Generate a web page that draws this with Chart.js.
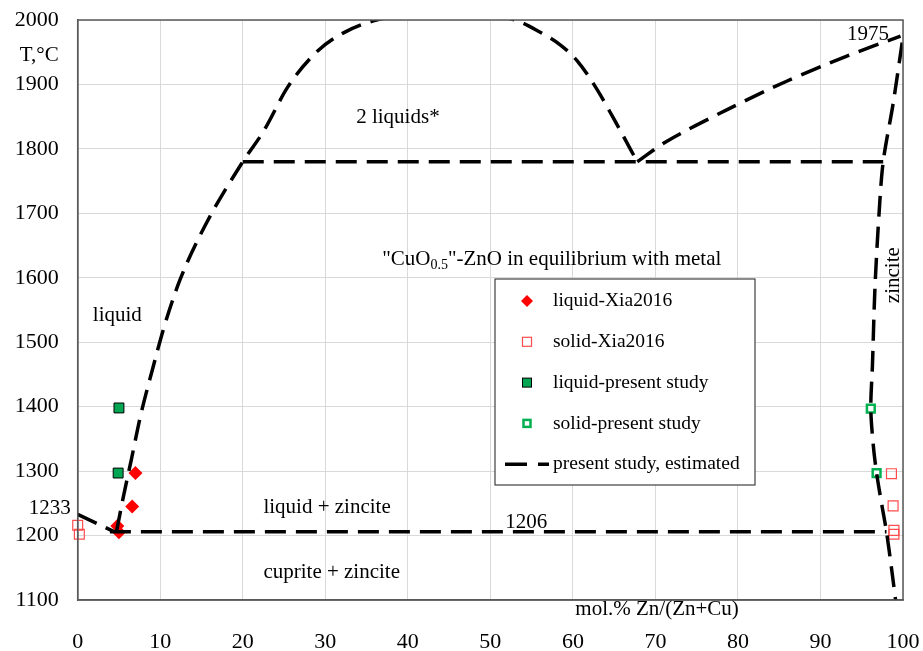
<!DOCTYPE html>
<html>
<head>
<meta charset="utf-8">
<script src="https://cdn.jsdelivr.net/npm/chart.js@4"></script>
<style>html,body{margin:0;padding:0;background:#fff}</style>
</head>
<body>
<canvas id="phase" width="923" height="651"></canvas>
<script>
// measured points (mol.% Zn/(Zn+Cu), T in C)
var liquidXiaX = [7.0, 6.6, 4.8, 5.0];
var liquidXiaT = [1297, 1245, 1215, 1205];
var solidXiaX = [0.0, 0.2, 98.6, 98.8, 98.9, 98.9];
var solidXiaT = [1216, 1202, 1296, 1246, 1208, 1202];
var liquidOursX = [5.0, 4.9];
var liquidOursT = [1398, 1297];
var solidOursX = [96.1, 96.8];
var solidOursT = [1397, 1297];

// estimated phase boundaries
var cuLiqX = [0, 4.4];
var cuLiqT = [1233, 1206];
var domeX = [4.7, 5.5, 6.5, 7.6, 9.0, 10.5, 12.4, 15.6, 20.0, 22.5, 25.5, 29.0, 32.2, 36.2, 40, 45, 50, 53.0, 55.6, 58.5, 60.5, 62.7, 64.9, 67.8];
var domeT = [1206, 1258, 1318, 1385, 1455, 1525, 1597, 1685, 1780, 1827, 1897, 1951, 1980, 2000, 2007, 2009, 2007, 2000, 1984, 1961, 1937, 1897, 1848, 1780];
var risingX = [67.8, 71.4, 78.7, 85.9, 93.2, 99.7];
var risingT = [1780, 1812, 1861, 1905, 1944, 1975];
var zinciteX = [99.9, 98.8, 97.6, 97.1, 96.6, 96.3, 96.1, 96.4, 96.8, 97.4, 98.0, 98.6, 99.1];
var zinciteT = [1965, 1870, 1780, 1700, 1584, 1465, 1397, 1340, 1297, 1250, 1206, 1150, 1100];
var monoX = [20.0, 97.6];
var monoT = [1780, 1780];
var eutX = [3.9, 98.0];
var eutT = [1206, 1206];

var serif = "'Liberation Serif', 'Times New Roman', serif";
var dash = [21, 10];

function pts(xs, ys) {
  return xs.map((x, i) => ({x: x, y: ys[i]}));
}
function boundary(xs, ys, tension, mode) {
  return {
    label: 'present study, estimated',
    data: pts(xs, ys),
    showLine: true,
    pointRadius: 0,
    borderColor: '#000',
    borderWidth: 3.5,
    borderDash: dash,
    borderCapStyle: 'butt',
    tension: tension,
    cubicInterpolationMode: mode || 'default',
    clip: 0
  };
}

var notes = [
  {text: '2 liquids*', x: 38.8, y: 1848, align: 'center'},
  {text: 'liquid', x: 4.8, y: 1541, align: 'center'},
  {text: 'liquid + zincite', x: 22.5, y: 1243, align: 'left'},
  {text: 'cuprite + zincite', x: 22.5, y: 1142, align: 'left'},
  {text: '1206', x: 51.8, y: 1221, align: 'left'},
  {text: '1975', x: 93.2, y: 1977, align: 'left'}
];

var legendItems = [
  {label: 'liquid-Xia2016', kind: 'diamond'},
  {label: 'solid-Xia2016', kind: 'openRed'},
  {label: 'liquid-present study', kind: 'greenFill'},
  {label: 'solid-present study', kind: 'greenOpen'},
  {label: 'present study, estimated', kind: 'dash'}
];

function noPad(s) {
  s.paddingTop = 0; s.paddingBottom = 0; s.paddingLeft = 0; s.paddingRight = 0;
}

var extras = {
  id: 'extras',
  afterDatasetsDraw(chart) {
    var ctx = chart.ctx, a = chart.chartArea;
    var sx = chart.scales.x, sy = chart.scales.y;
    ctx.save();
    // frame
    ctx.strokeStyle = '#595959';
    ctx.lineWidth = 1.5;
    ctx.strokeRect(a.left, a.top, a.right - a.left, a.bottom - a.top);

    ctx.fillStyle = '#000';
    ctx.textBaseline = 'middle';
    ctx.font = '21px ' + serif;
    notes.forEach(n => {
      ctx.textAlign = n.align;
      ctx.fillText(n.text, sx.getPixelForValue(n.x), sy.getPixelForValue(n.y));
    });

    // "CuO0.5"-ZnO line with subscript
    var cx = sx.getPixelForValue(36.9), cy = sy.getPixelForValue(1628);
    ctx.textAlign = 'left';
    var p1 = '"CuO', p2 = '0.5', p3 = '"-ZnO in equilibrium with metal';
    ctx.fillText(p1, cx, cy);
    var w1 = ctx.measureText(p1).width;
    ctx.font = '14px ' + serif;
    ctx.fillText(p2, cx + w1, cy + 6);
    var w2 = ctx.measureText(p2).width;
    ctx.font = '21px ' + serif;
    ctx.fillText(p3, cx + w1 + w2, cy);

    // zincite, rotated
    ctx.save();
    ctx.translate(sx.getPixelForValue(98.8), sy.getPixelForValue(1604));
    ctx.rotate(-Math.PI / 2);
    ctx.textAlign = 'center';
    ctx.fillText('zincite', 0, 0);
    ctx.restore();

    // axis titles and extra tick
    ctx.textAlign = 'right';
    ctx.fillText('T,°C', a.left - 19, a.top + 35);
    ctx.fillText('1233', a.left - 7, sy.getPixelForValue(1233) - 6);
    ctx.textAlign = 'left';
    ctx.fillText('mol.% Zn/(Zn+Cu)', sx.getPixelForValue(60.3), a.bottom + 9);

    // legend box
    var bx = 495, by = 279, bw = 260, bh = 206;
    ctx.fillStyle = '#fff';
    ctx.fillRect(bx, by, bw, bh);
    ctx.strokeStyle = '#404040';
    ctx.lineWidth = 1.2;
    ctx.strokeRect(bx, by, bw, bh);
    ctx.font = '19.5px ' + serif;
    ctx.textAlign = 'left';
    legendItems.forEach((it, i) => {
      var y = by + 22 + i * 40.8, mx = bx + 32;
      ctx.save();
      if (it.kind === 'diamond') {
        ctx.fillStyle = '#ff0000';
        ctx.beginPath();
        ctx.moveTo(mx, y - 6); ctx.lineTo(mx + 6, y); ctx.lineTo(mx, y + 6); ctx.lineTo(mx - 6, y);
        ctx.closePath(); ctx.fill();
      } else if (it.kind === 'openRed') {
        ctx.strokeStyle = '#ff4d4d'; ctx.lineWidth = 1.2;
        ctx.strokeRect(mx - 4.5, y - 4.5, 9, 9);
      } else if (it.kind === 'greenFill') {
        ctx.fillStyle = '#00a651'; ctx.fillRect(mx - 4.5, y - 4.5, 9, 9);
        ctx.strokeStyle = '#000'; ctx.lineWidth = 1;
        ctx.strokeRect(mx - 4.5, y - 4.5, 9, 9);
      } else if (it.kind === 'greenOpen') {
        ctx.strokeStyle = '#00b050'; ctx.lineWidth = 2.5;
        ctx.strokeRect(mx - 3.5, y - 3.5, 7, 7);
      } else {
        ctx.strokeStyle = '#000'; ctx.lineWidth = 3.5;
        ctx.setLineDash([22, 11]);
        ctx.beginPath(); ctx.moveTo(bx + 10, y); ctx.lineTo(bx + 54, y); ctx.stroke();
      }
      ctx.restore();
      ctx.fillStyle = '#000';
      ctx.fillText(it.label, bx + 58, y);
    });
    ctx.restore();
  }
};

var ctx = document.getElementById('phase').getContext('2d');
var phase = new Chart(ctx, {
  type: 'scatter',
  data: {
    datasets: [
      boundary(cuLiqX, cuLiqT, 0),
      boundary(domeX, domeT, 0.4, 'monotone'),
      boundary(risingX, risingT, 0.3),
      boundary(zinciteX, zinciteT, 0.3),
      boundary(monoX, monoT, 0),
      boundary(eutX, eutT, 0),
      {
        label: 'liquid-Xia2016',
        data: pts(liquidXiaX, liquidXiaT),
        pointStyle: 'rectRot',
        pointRadius: 7,
        backgroundColor: '#ff0000',
        borderColor: '#ff0000',
        borderWidth: 0
      },
      {
        label: 'solid-Xia2016',
        data: pts(solidXiaX, solidXiaT),
        pointStyle: 'rect',
        pointRadius: 7,
        backgroundColor: 'rgba(255,255,255,0)',
        borderColor: '#ff4d4d',
        borderWidth: 1.2,
        clip: false
      },
      {
        label: 'liquid-present study',
        data: pts(liquidOursX, liquidOursT),
        pointStyle: 'rect',
        pointRadius: 7,
        backgroundColor: '#00a651',
        borderColor: '#000',
        borderWidth: 1
      },
      {
        label: 'solid-present study',
        data: pts(solidOursX, solidOursT),
        pointStyle: 'rect',
        pointRadius: 5.5,
        backgroundColor: '#fff',
        borderColor: '#00b050',
        borderWidth: 2.5
      }
    ]
  },
  options: {
    responsive: false,
    animation: false,
    layout: {padding: {top: 20, right: 20, left: 0, bottom: 0}},
    plugins: {legend: {display: false}, tooltip: {enabled: false}},
    scales: {
      x: {
        type: 'linear', min: 0, max: 100,
        ticks: {stepSize: 10, padding: 29, color: '#000', font: {family: serif, size: 22}, callback: v => String(v)},
        grid: {color: '#d9d9d9', lineWidth: 1, drawTicks: false},
        border: {color: '#595959', width: 1.5},
        afterFit: s => { s.height = 51; noPad(s); }
      },
      y: {
        min: 1100, max: 2000,
        ticks: {stepSize: 100, padding: 19, color: '#000', font: {family: serif, size: 22}, callback: v => String(v)},
        grid: {color: '#d9d9d9', lineWidth: 1, drawTicks: false},
        border: {color: '#595959', width: 1.5},
        afterFit: s => { s.width = 77.7; noPad(s); }
      }
    }
  },
  plugins: [extras]
});
</script>
</body>
</html>
